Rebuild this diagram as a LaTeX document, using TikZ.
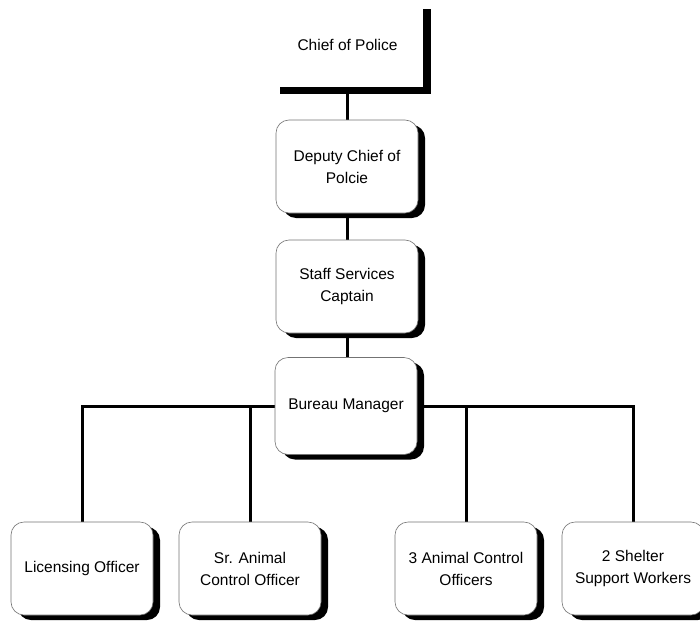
\documentclass[tikz,border=0pt]{standalone}
\usepackage{fontspec}
\setmainfont{Liberation Sans}
\usetikzlibrary{shadows,backgrounds}

\begin{document}
\begin{tikzpicture}[x=1pt,y=-1pt,
  orgbox/.style={rectangle, rounded corners=13pt, draw=black!55, line width=0.6pt,
    fill=white, minimum width=142pt, minimum height=93pt, align=center,
    inner sep=2pt, font=\fontsize{15.5}{22}\selectfont,
    drop shadow={shadow xshift=7pt, shadow yshift=-5pt, fill=black, opacity=1}},
  topbox/.style={rectangle, fill=white, minimum width=151pt, minimum height=85pt,
    align=center, font=\fontsize{15.5}{22}\selectfont,
    drop shadow={shadow xshift=8pt, shadow yshift=-7pt, fill=black, opacity=1}},
  link/.style={line width=3pt, draw=black}]

  \useasboundingbox (0,0) rectangle (700,623);
  \clip (0,0) rectangle (700,623);

  % chain of command
  \node[topbox] (chief) at (347.5,45) {Chief of Police};
  \node[orgbox] (deputy) at (347,166.5) {Deputy Chief of\\Polcie};
  \node[orgbox] (staff) at (347,286.5) {Staff Services\\Captain};
  \node[orgbox, minimum height=97pt] (bureau) at (346,406) {Bureau Manager};

  % units reporting to the bureau manager
  \node[orgbox] (lic) at (82,568.5) {Licensing Officer};
  \node[orgbox] (sr) at (250,568.5) {Sr. Animal\\Control Officer};
  \node[orgbox] (aco) at (466,568.5) {3 Animal Control\\Officers};
  \node[orgbox] (shelter) at (633,568.5) {2 Shelter\\Support Workers};

  \begin{scope}[on background layer]
    \draw[link] (deputy.north) -- (deputy.north |- chief.south);
    \draw[link] (staff.north) -- (staff.north |- deputy.south);
    \draw[link] (bureau.north -| staff.north) -- (staff.south);
    \draw[link] (bureau.center) -| (lic.north);
    \draw[link] (bureau.center) -| (sr.north);
    \draw[link] (bureau.center) -| (aco.north);
    \draw[link] (bureau.center) -| (shelter.north);
  \end{scope}
\end{tikzpicture}
\end{document}
